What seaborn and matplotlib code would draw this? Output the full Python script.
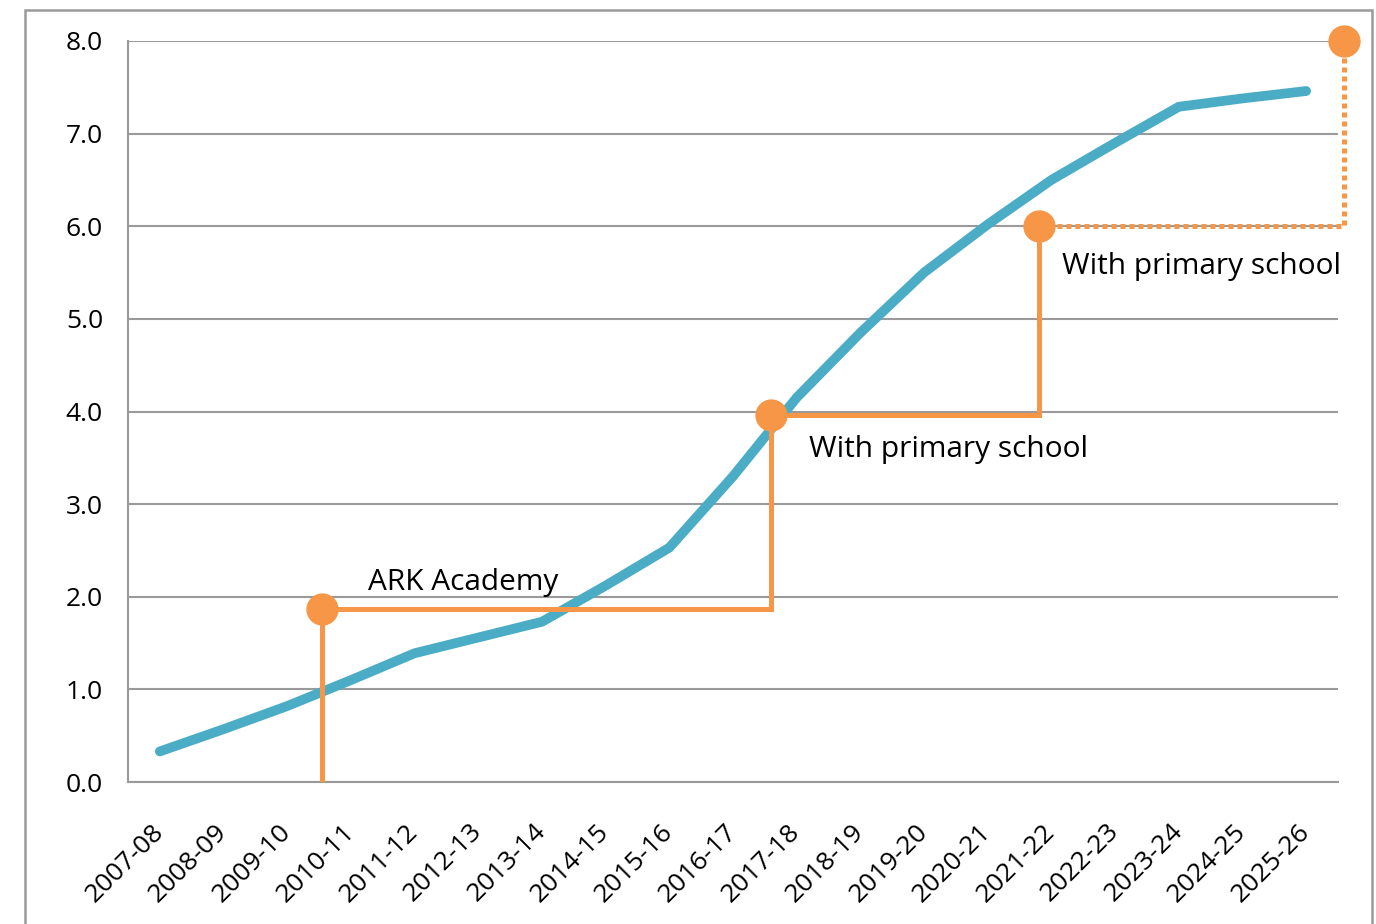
import numpy as np
import pandas as pd
import matplotlib
matplotlib.use("Agg")
import matplotlib.pyplot as plt
from matplotlib.patches import Rectangle
import seaborn as sns

years = ['2007-08', '2008-09', '2009-10', '2010-11', '2011-12', '2012-13', '2013-14',
         '2014-15', '2015-16', '2016-17', '2017-18', '2018-19', '2019-20', '2020-21',
         '2021-22', '2022-23', '2023-24', '2024-25', '2025-26']
values = [0.33, 0.57, 0.82, 1.10, 1.39, 1.56, 1.73, 2.12, 2.53, 3.30, 4.15,
          4.85, 5.50, 6.02, 6.50, 6.90, 7.29, 7.38, 7.46]

# step annotations (x in category units)
step_x = [2.55, 9.6, 13.8, 18.6]
step_y = [1.87, 3.96, 6.0, 8.0]
step_labels = ['ARK Academy', 'With primary school', 'With primary school', 'Other']

BLUE = '#4BACC6'
ORANGE = '#F79646'
GRAY = '#9a9a9a'

sns.set_style("white")
plt.rcParams['font.family'] = ['Open Sans', 'DejaVu Sans']

df = pd.DataFrame({'x': np.arange(len(years)), 'value': values})

fig = plt.figure(figsize=(13.76, 9.24), dpi=100)
ax = fig.add_axes([128/1376, 1 - 782/924, (1338-128)/1376, (782-41)/924])

sns.lineplot(data=df, x='x', y='value', ax=ax, color=BLUE, linewidth=7,
             solid_capstyle='round', solid_joinstyle='miter', zorder=3)

# solid orange steps
sx = [step_x[0], step_x[0], step_x[1], step_x[1], step_x[2], step_x[2]]
sy = [0, step_y[0], step_y[0], step_y[1], step_y[1], step_y[2]]
ax.plot(sx, sy, color=ORANGE, linewidth=3.6, zorder=4, solid_joinstyle='miter')
# dotted last step
ax.plot([step_x[2], step_x[3], step_x[3]], [step_y[2], step_y[2], step_y[3]],
        color=ORANGE, linewidth=3.6, linestyle=(0, (1, 0.8)), dash_capstyle='butt',
        zorder=4, clip_on=False)
ax.scatter(step_x, step_y, s=540, color=ORANGE, zorder=5, clip_on=False, linewidths=0)

offsets = [(33, 19), (27, -25), (17, -29), (-34, -11)]
for xx, yy, lab, off in zip(step_x, step_y, step_labels, offsets):
    ax.annotate(lab, (xx, yy), xytext=off, textcoords='offset points',
                ha='left' if off[0] > 0 else 'right', va='center',
                fontsize=21.5, color='black', zorder=6)

ax.set_xlim(-0.5, len(years) - 0.5)
ax.set_ylim(0, 8)
ax.set_yticks(np.arange(0, 9, 1))
ax.set_yticklabels([f'{v:.1f}' for v in range(9)], fontsize=19)
ax.set_xticks(np.arange(-0.5, len(years), 1))
ax.set_xticklabels([])
ax.set_xticks(np.arange(len(years)), minor=True)
ax.set_xticklabels(years, minor=True, rotation=45, ha='right', va='center',
                   rotation_mode='anchor', fontsize=19)
ax.tick_params(axis='x', which='major', length=8, width=1.5, color=GRAY, direction='out')
ax.tick_params(axis='x', which='minor', length=0, pad=33, labelcolor='black')
ax.tick_params(axis='y', length=8, width=1.5, color=GRAY, direction='out', pad=10,
               labelcolor='black')
ax.yaxis.grid(True, color=GRAY, linewidth=1.5)
ax.set_axisbelow(True)
ax.set_xlabel('')
ax.set_ylabel('')
for s in ['top', 'right']:
    ax.spines[s].set_visible(False)
for s in ['left', 'bottom']:
    ax.spines[s].set_color(GRAY)
    ax.spines[s].set_linewidth(1.5)

fig.patches.append(Rectangle((25/1376, -0.02), (1372-25)/1376, 1.02 - 10/924,
                             transform=fig.transFigure, fill=False,
                             edgecolor=GRAY, linewidth=1.8))

fig.savefig('out.png', dpi=100)
